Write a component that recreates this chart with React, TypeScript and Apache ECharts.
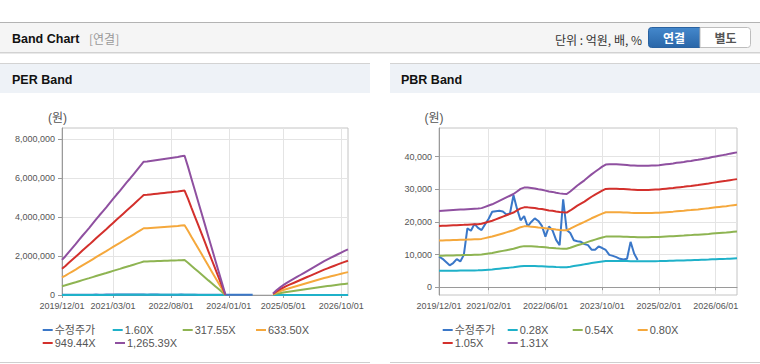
import React, { useEffect, useRef } from "react";
import * as echarts from "echarts";

// ---- categories (monthly, 2019/12 .. 2026/12) ----
const months: string[] = (() => {
  const out: string[] = [];
  let y = 2019;
  let m = 12;
  for (let k = 0; k < 85; k++) {
    out.push(`${y}/${String(m).padStart(2, "0")}/01`);
    m++;
    if (m > 12) { m = 1; y++; }
  }
  return out;
})();

const perLabelIdx = [0, 15, 32, 49, 65, 82];
const pbrLabelIdx = [0, 14, 30, 46, 62, 78];

const perYTicks = [0, 2000000, 4000000, 6000000, 8000000];
const pbrYTicks = [0, 10000, 20000, 30000, 40000];

// ---- adjusted price (수정주가), 2019/12 .. 2024/08 ----
const price: (number | null)[] = [
  9400, 8700, 7700, 6700, 7400, 8600, 7900, 9900, 18000, 17300,
  19400, 18200, 17500, 19300, 21000, 23100, 23300, 23400, 23200, 22300,
  22600, 28200, 24000, 20500, 21800, 18600, 20000, 21100, 20300, 18800,
  15500, 18600, 17400, 14500, 12900, 26900, 17500, 16600, 14400, 14100,
  13900, 13200, 12900, 11500, 11500, 12500, 12000, 11400, 9900, 9600,
  9200, 8700, 8500, 8700, 13900, 10300, 8300,
];

// ---- EPS (PER band base) ----
const eps: (number | null)[] = [
  1420, 1570, 1740, 1900, 2060, 2230, 2400, 2560, 2720, 2890,
  3060, 3230, 3390, 3550, 3720, 3890, 4060, 4220, 4390, 4560,
  4720, 4890, 5060, 5230, 5400,
  5410, 5430, 5450, 5470, 5490, 5510, 5530, 5550, 5570, 5590, 5620, 5640,
  5200, 4720, 4250, 3780, 3310, 2840, 2360, 1890, 1420, 950, 480, 10,
  null, null, null, null, null, null, null, null, null, null, null, null, null,
  60, 190, 300, 400, 490, 570, 650, 730, 810, 890, 970, 1050, 1130, 1210,
  1290, 1370, 1440, 1510, 1580, 1650, 1720, 1790, 1850,
];

// ---- BPS (PBR band base) ----
const bps: number[] = [
  17850, 17900, 17950, 18000, 18050, 18100, 18150, 18200, 18250, 18300,
  18350, 18400, 18500, 18800, 19100, 19400, 19800, 20200, 20600, 21000,
  21400, 21800, 22400, 23000, 23300, 23300, 23200, 23100, 22900, 22800,
  22600, 22400, 22300, 22100, 21950, 21850, 21800, 22400, 23100, 23800,
  24400, 25000, 25700, 26400, 27000, 27600, 28200, 28700, 28750, 28750,
  28750, 28700, 28650, 28600, 28500, 28450, 28400, 28400, 28400, 28400,
  28450, 28500, 28550, 28650, 28750, 28850, 28950, 29100, 29200, 29300,
  29450, 29550, 29700, 29800, 29950, 30100, 30250, 30450, 30600, 30750,
  30900, 31050, 31250, 31400, 31550,
];

const perMultiples = [1.6, 317.55, 633.5, 949.44, 1265.39];
const perNames = ["1.60X", "317.55X", "633.50X", "949.44X", "1,265.39X"];
const pbrMultiples = [0.28, 0.54, 0.8, 1.05, 1.31];
const pbrNames = ["0.28X", "0.54X", "0.80X", "1.05X", "1.31X"];

const priceName = "수정주가";
const colors = ["#3a77c8", "#1fb1c9", "#8eb452", "#f5a83c", "#d3302c", "#8f50a0"];

const TICK_FONT = '"Liberation Sans", Arial, sans-serif';
const LAT_KR_FONT = '"Liberation Sans", "Noto Sans CJK KR", sans-serif';
const KR_FONT = '"Noto Sans CJK KR", "Liberation Sans", sans-serif';

function band(base: (number | null)[], mult: number) {
  return base.map((v) => (v == null ? null : Math.round(v * mult)));
}

const fmt = (v: number) => v.toLocaleString("en-US");

export default function App() {
  const ref = useRef<HTMLDivElement>(null);

  useEffect(() => {
    if (!ref.current) return;
    const chart = echarts.init(ref.current, undefined, { renderer: "svg" });

    const priceFull = months.map((_, i) => (i < price.length ? price[i] : null));

    const mkLine = (name: string, data: (number | null)[], color: string, gi: number) => ({
      type: "line",
      name,
      data,
      xAxisIndex: gi,
      yAxisIndex: gi,
      symbol: "none",
      connectNulls: false,
      lineStyle: { width: 2, color },
      itemStyle: { color },
      silent: true,
    });

    const series: any[] = [];
    series.push(mkLine(priceName, priceFull, colors[0], 0));
    perNames.forEach((n, k) => series.push(mkLine(n, band(eps, perMultiples[k]), colors[k + 1], 0)));
    series.push(mkLine(priceName, priceFull, colors[0], 1));
    pbrNames.forEach((n, k) => series.push(mkLine(n, band(bps, pbrMultiples[k]), colors[k + 1], 1)));

    const xAxis = (gi: number, idx: number[]) => {
      const set = new Set(idx);
      const f = (i: number) => set.has(i);
      return {
        type: "category",
        gridIndex: gi,
        data: months,
        boundaryGap: false,
        axisLine: { lineStyle: { color: "#9a9a9a", width: 1 } },
        axisTick: { show: true, interval: f, length: 3, lineStyle: { color: "#9a9a9a" } },
        axisLabel: {
          interval: f,
          fontSize: 9,
          fontFamily: TICK_FONT,
          color: "#555",
          margin: 6,
        },
        splitLine: { show: true, interval: f, lineStyle: { color: "#e4e4e4", width: 1 } },
      };
    };

    const yAxis = (gi: number, min: number, max: number, ticks: number[]) => ({
      type: "value",
      gridIndex: gi,
      min,
      max,
      axisLine: { show: true, lineStyle: { color: "#9a9a9a", width: 1 } },
      axisTick: { show: true, customValues: ticks, length: 4, lineStyle: { color: "#9a9a9a" } },
      axisLabel: {
        customValues: ticks,
        formatter: (v: number) => fmt(v),
        fontSize: 9,
        fontFamily: TICK_FONT,
        color: "#555",
        margin: 7,
      },
      splitLine: { show: true, lineStyle: { color: "#e4e4e4", width: 1 } },
    });

    const legendItem = (name: string, left: number, top: number) => ({
      data: [name],
      left,
      top,
      padding: 0,
      itemWidth: 10,
      itemHeight: 2,
      icon: "rect",
      selectedMode: false,
      textStyle: {
        fontSize: 11,
        lineHeight: 12,
        fontFamily: LAT_KR_FONT,
        color: "#555",
        padding: [0, 0, 0, -3],
      },
    });

    const r1 = 324;
    const r2 = 337;
    const legend = [
      legendItem(priceName, 42.7, r1),
      legendItem("1.60X", 112.7, r1),
      legendItem("317.55X", 182.7, r1),
      legendItem("633.50X", 256, r1),
      legendItem("949.44X", 42.7, r2),
      legendItem("1,265.39X", 115, r2),
      legendItem(priceName, 442.7, r1),
      legendItem("0.28X", 507.7, r1),
      legendItem("0.54X", 572.7, r1),
      legendItem("0.80X", 637.7, r1),
      legendItem("1.05X", 442.7, r2),
      legendItem("1.31X", 507.7, r2),
    ];

    const txt = (text: string, x: number, y: number, opt: any = {}) => ({
      type: "text",
      x,
      y,
      z: 100,
      silent: true,
      style: {
        text,
        fill: opt.fill || "#333",
        fontSize: opt.fontSize || 12,
        fontWeight: opt.fontWeight || "normal",
        fontFamily: opt.fontFamily || KR_FONT,
        align: opt.align || "left",
        verticalAlign: "middle",
      },
    });
    const rect = (x: number, y: number, w: number, h: number, style: any, r: any = 0) => ({
      type: "rect",
      z: -10,
      silent: true,
      shape: { x, y, width: w, height: h, r },
      style,
    });
    const hline = (x1: number, x2: number, y: number, stroke: string) => ({
      type: "line",
      z: -5,
      silent: true,
      shape: { x1, y1: y, x2, y2: y },
      style: { stroke, lineWidth: 1 },
    });

    const graphic: any[] = [
      // top header bar
      rect(0, 22, 760, 30, { fill: "#f5f5f5" }),
      hline(0, 760, 22.5, "#b3b3b3"),
      hline(0, 760, 52.5, "#d2d2d2"),
      hline(0, 760, 53.5, "#e9e9e9"),
      txt("Band Chart", 12, 38.5, { fontSize: 12.5, fontWeight: "bold", fill: "#111", fontFamily: TICK_FONT }),
      txt("[연결]", 89, 38.5, { fontSize: 12, fill: "#999" }),
      txt("단위 : 억원, 배, %", 642, 39, { fontSize: 12, fill: "#333", align: "right" }),
      {
        type: "rect",
        z: 10,
        silent: true,
        shape: { x: 648.5, y: 27.5, width: 51.5, height: 20, r: [3, 0, 0, 3] },
        style: {
          fill: new echarts.graphic.LinearGradient(0, 0, 0, 1, [
            { offset: 0, color: "#4488cc" },
            { offset: 1, color: "#2966a8" },
          ]),
          stroke: "#2a62a0",
          lineWidth: 1,
        },
      },
      {
        type: "rect",
        z: 10,
        silent: true,
        shape: { x: 700, y: 27.5, width: 50.5, height: 20, r: [0, 3, 3, 0] },
        style: { fill: "#ffffff", stroke: "#bdbdbd", lineWidth: 1 },
      },
      txt("연결", 674, 37.5, { fontSize: 12, fontWeight: "bold", fill: "#ffffff", align: "center" }),
      txt("별도", 725.5, 37.5, { fontSize: 12, fontWeight: "bold", fill: "#555", align: "center" }),
      // panel headers
      rect(0, 64, 370, 29, { fill: "#eef2f7" }),
      hline(0, 370, 63.5, "#d3d3d3"),
      rect(390, 64, 370, 29, { fill: "#eef2f7" }),
      hline(390, 760, 63.5, "#d3d3d3"),
      txt("PER Band", 12, 79.5, { fontSize: 12.5, fontWeight: "bold", fill: "#111", fontFamily: TICK_FONT }),
      txt("PBR Band", 401, 79.5, { fontSize: 12.5, fontWeight: "bold", fill: "#111", fontFamily: TICK_FONT }),
      // panel bottoms
      hline(0, 370, 362.5, "#cfcfcf"),
      hline(390, 760, 362.5, "#cfcfcf"),
      // axis units
      txt("(원)", 57.5, 118, { fontSize: 12, fill: "#555", align: "center", fontFamily: LAT_KR_FONT }),
      txt("(원)", 434, 118, { fontSize: 12, fill: "#555", align: "center", fontFamily: LAT_KR_FONT }),
    ];

    chart.setOption({
      animation: false,
      backgroundColor: "#ffffff",
      grid: [
        { left: 62, top: 128, width: 286, height: 167, show: true, borderColor: "#c4c4c4", borderWidth: 1, backgroundColor: "transparent" },
        { left: 439, top: 128, width: 298, height: 167, show: true, borderColor: "#c4c4c4", borderWidth: 1, backgroundColor: "transparent" },
      ],
      xAxis: [xAxis(0, perLabelIdx), xAxis(1, pbrLabelIdx)],
      yAxis: [yAxis(0, 0, 8560000, perYTicks), yAxis(1, -2400, 48800, pbrYTicks)],
      legend,
      series,
      graphic,
    });

    return () => chart.dispose();
  }, []);

  return (
    <div
      ref={ref}
      style={{ position: "fixed", left: 0, top: 0, width: 760, height: 364, background: "#fff" }}
    />
  );
}
